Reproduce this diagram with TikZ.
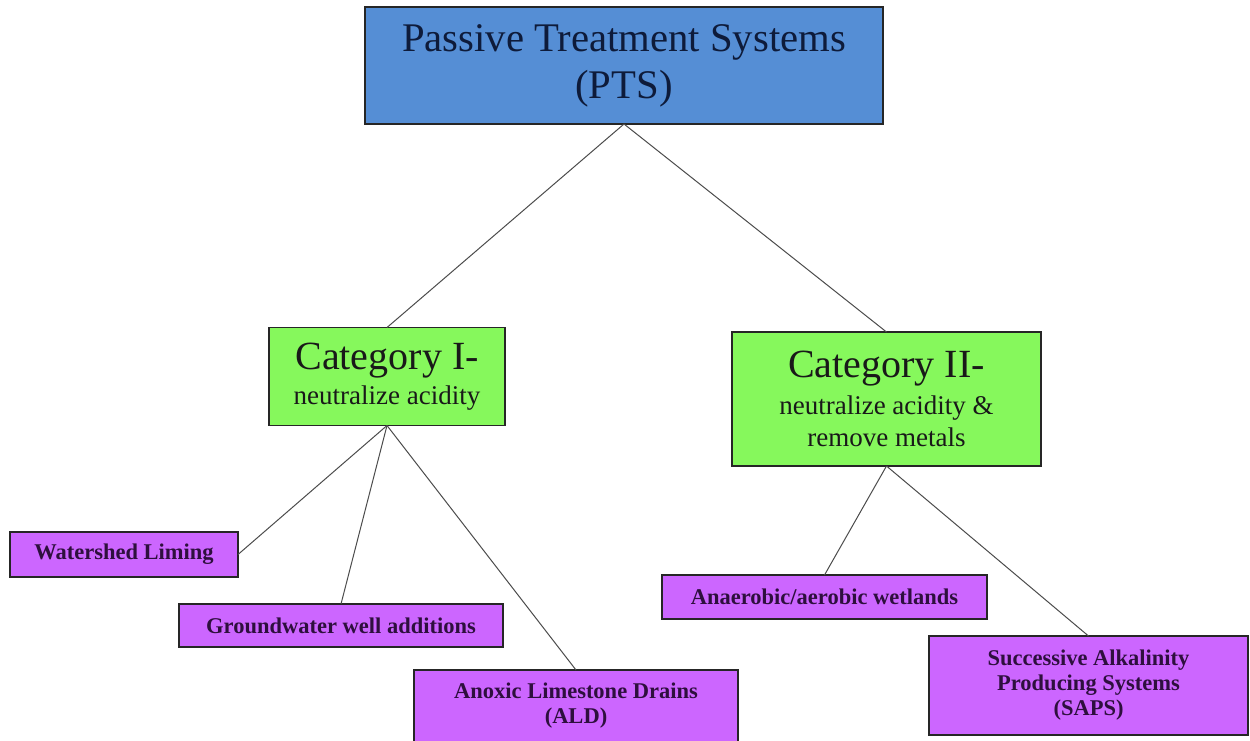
\documentclass[tikz,border=0pt]{standalone}
\usepackage{fontspec}
\setmainfont{Liberation Serif}
\definecolor{ptsblue}{HTML}{558ED5}
\definecolor{catgreen}{HTML}{86F85C}
\definecolor{methpurple}{HTML}{CC66FF}
\definecolor{ptstext}{HTML}{0E1B3A}
\definecolor{methtext}{HTML}{2E0F3E}
\newcommand{\bigcatfont}{\fontsize{40}{40}\selectfont}
\tikzset{every node/.style={          align=center,
           inner sep=0pt,
           outer sep=0pt},
         topbox/.style={ % Root of the tree
           draw=black!85, line width=1.5pt,
           fill=ptsblue, text=ptstext,
           font=\fontsize{40.7}{47}\selectfont},
         catbox/.style={ % The two categories
           draw=black!85, line width=1.5pt,
           fill=catgreen, text=black!90,
           font=\fontsize{27}{32}\selectfont},
         methbox/.style={ % Single methods
           draw=black!85, line width=1.5pt,
           fill=methpurple, text=methtext,
           font=\bfseries\fontsize{22.5}{25}\selectfont},
         every edge/.style={  % Plain connectors, no tips
           draw, line width=1pt,
           draw=black!70}}
\begin{document}
\begin{tikzpicture}[x=1pt,y=-1pt]
  \fill[white] (0,0) rectangle (1250,740);
  \useasboundingbox (0,0) rectangle (1250,740);

  \node [topbox, minimum width=518pt, minimum height=117pt] (pts) at (624,65.5) {
    Passive Treatment Systems\\(PTS)};

  \node [catbox, minimum width=236pt, minimum height=98pt] (cati) at (387,376.5) {
    {\bigcatfont Category I-}\\[3pt]
    neutralize acidity};
  \node [catbox, minimum width=309pt, minimum height=134pt] (catii) at (886.5,399) {
    {\bigcatfont Category II-}\\[5pt]
    neutralize acidity \&\\
    remove metals};

  \node [methbox, minimum width=228pt, minimum height=45pt] (wliming) at (124,554.5) {Watershed Liming};
  \node [methbox, minimum width=324pt, minimum height=43pt] (gwell) at (341,625.5) {Groundwater well additions};
  \node [methbox, minimum width=324pt, minimum height=72pt] (ald) at (576,706) {
    Anoxic Limestone Drains\\(ALD)};
  \node [methbox, minimum width=325pt, minimum height=44pt] (wetland) at (824.5,597) {Anaerobic/aerobic wetlands};
  \node [methbox, minimum width=319pt, minimum height=99pt] (saps) at (1088.5,685.5) {
    Successive Alkalinity\\
    Producing Systems\\
    (SAPS)};

  \draw (pts.south) edge (cati.north)
                    edge (catii.north);
  \draw (cati.south) edge (wliming.east)
                     edge (gwell.north)
                     edge (ald.north);
  \draw (catii.south) edge (wetland.north)
                      edge (saps.north);
\end{tikzpicture}
\end{document}
